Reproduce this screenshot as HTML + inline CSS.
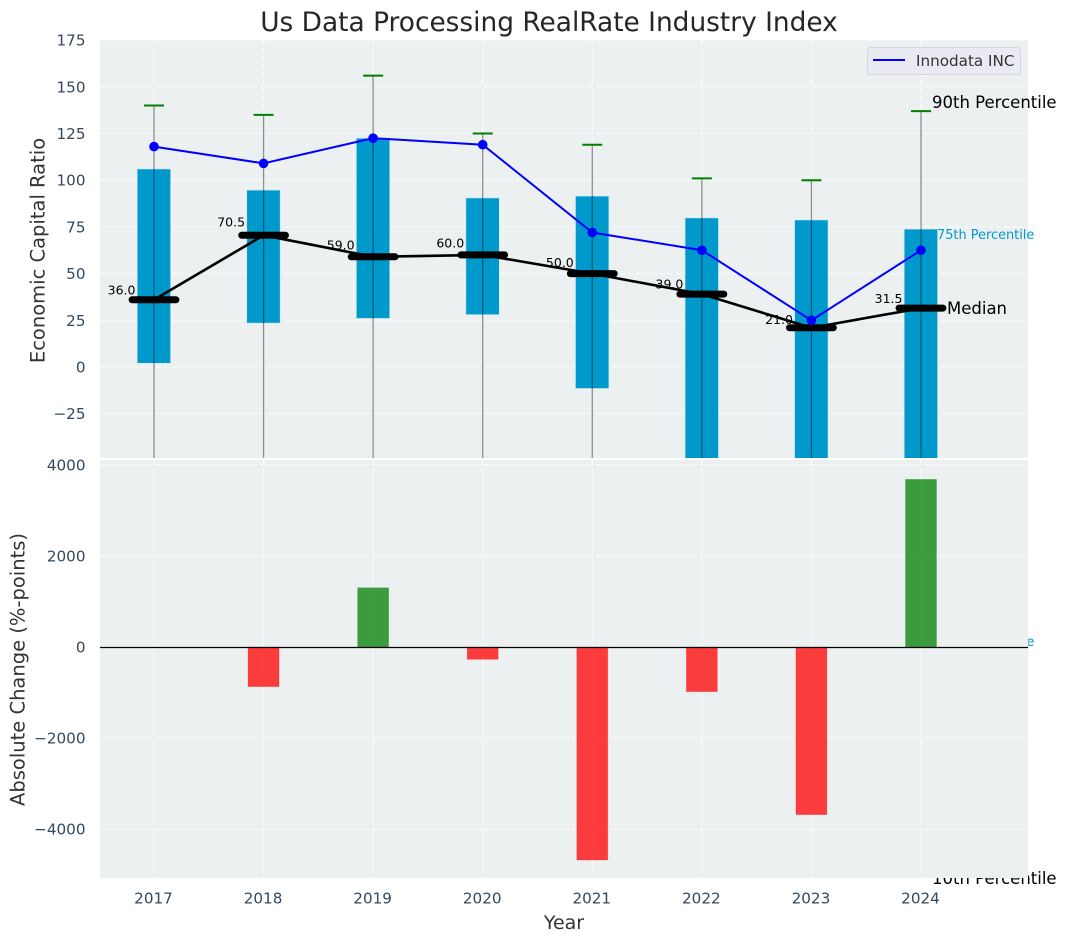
<!DOCTYPE html>
<html lang="en">
<head>
<meta charset="utf-8">
<title>Us Data Processing RealRate Industry Index</title>
<style>
html,body{margin:0;padding:0;background:#fff;}
svg{display:block;font-family:"DejaVu Sans","Liberation Sans",sans-serif;}
</style>
</head>
<body>
<svg id="chart" xmlns="http://www.w3.org/2000/svg" width="1067" height="942" viewBox="0 0 1067 942">
<defs>
<clipPath id="top-clip"><rect x="100" y="40" width="928" height="418"/></clipPath>
<clipPath id="bottom-clip"><rect x="100" y="460" width="928" height="418"/></clipPath>
</defs>
</svg>
<script>
const years = [2017, 2018, 2019, 2020, 2021, 2022, 2023, 2024];
const p90 = [140, 135, 156, 125, 119, 101, 100, 137];
const p75 = [106, 94.7, 122.5, 90.5, 91.5, 79.8, 78.7, 73.8];
const median = [36, 70.5, 59, 60, 50, 39, 21, 31.5];
const p25 = [2, 23.5, 26, 28, -11.5, -60, -60, -60];
const p10 = [-70, -70, -70, -70, -80, -100, -100, -100];
const company = [118, 109, 122.5, 119, 72, 62.5, 25, 62.5];
const changes = [0, -870, 1300, -270, -4676, -980, -3680, 3680];
const topTicks = [175, 150, 125, 100, 75, 50, 25, 0, -25];
const bottomTicks = [4000, 2000, 0, -2000, -4000];

const svg = document.getElementById('chart');
const NS = 'http://www.w3.org/2000/svg';
const xScale = v => 154 + (v - 2017) * 109.57;
const yTop = v => 367 - v * 1.868;
const yBottom = v => 647 - v * 0.04555;
const fmt = v => String(v).replace('-', '\u2212');

function mk(tag, attrs, parent) {
  const el = document.createElementNS(NS, tag);
  for (const k in attrs) el.setAttribute(k, attrs[k]);
  (parent || svg).appendChild(el);
  return el;
}
function txt(content, attrs, parent) {
  const el = mk('text', attrs, parent);
  el.textContent = content;
  return el;
}

/* title */
const title = txt('Us Data Processing RealRate Industry Index', {x: 549, y: 31, 'text-anchor': 'middle', 'font-size': 26.4, fill: '#262626'});



/* top panel */
const topBg = mk('rect', {x: 100, y: 40, width: 928, height: 418, fill: '#ecf0f1'});



const topGrid = mk('g', {stroke: '#fff', 'stroke-width': 1.1, 'stroke-dasharray': '5 3', 'stroke-opacity': 0.85});


topTicks.forEach(t => mk('line', {x1: 100, x2: 1028, y1: yTop(t), y2: yTop(t)}, topGrid));
years.forEach(y => mk('line', {x1: xScale(y), x2: xScale(y), y1: 40, y2: 458}, topGrid));

const topPlot = mk('g', {'clip-path': 'url(#top-clip)'});



years.forEach((y, i) => {
  const box = mk('rect', {x: xScale(y) - 16.8, width: 33.4, y: yTop(p75[i]), height: yTop(p25[i]) - yTop(p75[i]), fill: '#0099cc', stroke: '#cfe6ef', 'stroke-width': 0.6}, topPlot);
  
  
});
years.forEach((y, i) => {
  const whisker = mk('line', {x1: xScale(y), x2: xScale(y), y1: yTop(p90[i]), y2: yTop(p10[i]), stroke: '#000', 'stroke-opacity': 0.42, 'stroke-width': 1.3}, topPlot);
  
  
  const cap = mk('line', {x1: xScale(y) - 10, x2: xScale(y) + 10, y1: yTop(p90[i]), y2: yTop(p90[i]), stroke: '#008000', 'stroke-width': 2}, topPlot);
  
  
});

const medianLine = mk('polyline', {points: years.map((y, i) => xScale(y) + ',' + yTop(median[i])).join(' '), fill: 'none', stroke: '#000', 'stroke-width': 2.6}, topPlot);



years.forEach((y, i) => {
  const tick = mk('line', {x1: xScale(y) - 21.9, x2: xScale(y) + 21.9, y1: yTop(median[i]), y2: yTop(median[i]), stroke: '#000', 'stroke-width': 7, 'stroke-linecap': 'round'}, topPlot);
  
  
});

const companyLine = mk('polyline', {points: years.map((y, i) => xScale(y) + ',' + yTop(company[i])).join(' '), fill: 'none', stroke: '#0000ff', 'stroke-width': 2}, topPlot);


years.forEach((y, i) => {
  const pt = mk('circle', {cx: xScale(y), cy: yTop(company[i]), r: 4.8, fill: '#0000ff'}, topPlot);
  
  
});

years.forEach((y, i) => {
  const lab = txt(median[i].toFixed(1), {x: xScale(y) - 18.5, y: yTop(median[i] * 1.05) - 2, 'text-anchor': 'end', 'font-size': 12.5, fill: '#000'});
  
  
});

/* percentile annotations drawn beneath the bottom panel */
const ann90 = txt('90th Percentile', {x: 932, y: 108, 'font-size': 16.5, fill: '#000'});


const ann75 = txt('75th Percentile', {x: 937, y: 239, 'font-size': 12.9, fill: '#0099cc'});


const annMed = txt('Median', {x: 947, y: 314, 'font-size': 16.5, fill: '#000'});


const ann25 = txt('25th Percentile', {x: 937, y: 646, 'font-size': 12.9, fill: '#0099cc'});


const ann10 = txt('10th Percentile', {x: 932, y: 884, 'font-size': 16.5, fill: '#000'});



/* legend */
const legend = mk('g', {});


mk('rect', {x: 867.5, y: 47.5, width: 153, height: 27, rx: 3, fill: '#eaeaf2', stroke: '#d5d5d8', 'stroke-width': 1}, legend);
mk('line', {x1: 873, x2: 905, y1: 60, y2: 60, stroke: '#0000ff', 'stroke-width': 2}, legend);
const legendLabel = txt('Innodata INC', {x: 916, y: 66, 'font-size': 15.2, fill: '#333'}, legend);



/* bottom panel */
const bottomBg = mk('rect', {x: 100, y: 460, width: 928, height: 418, fill: '#ecf0f1'});



const bottomGrid = mk('g', {stroke: '#fff', 'stroke-width': 1.1, 'stroke-dasharray': '5 3', 'stroke-opacity': 0.85});


bottomTicks.forEach(t => mk('line', {x1: 100, x2: 1028, y1: yBottom(t), y2: yBottom(t)}, bottomGrid));
years.forEach(y => mk('line', {x1: xScale(y), x2: xScale(y), y1: 460, y2: 878}, bottomGrid));

const bottomPlot = mk('g', {'clip-path': 'url(#bottom-clip)'});


years.forEach((y, i) => {
  const v = changes[i];
  const color = v >= 0 ? '#008000' : '#ff0000';
  const bar = mk('rect', {x: xScale(y) - 15.5, width: 31, y: Math.min(yBottom(v), yBottom(0)), height: Math.abs(yBottom(v) - yBottom(0)), fill: color, 'fill-opacity': 0.75, stroke: color, 'stroke-opacity': 0.25, 'stroke-width': 0.8}, bottomPlot);
  
  
});
const zeroLine = mk('line', {x1: 100, x2: 1028, y1: yBottom(0) + 0.5, y2: yBottom(0) + 0.5, stroke: '#000', 'stroke-width': 1.3});



/* axis tick labels */
topTicks.forEach(t => {
  const lab = txt(fmt(t), {x: 85.5, y: yTop(t) + 5.5, 'text-anchor': 'end', 'font-size': 15.2, fill: '#34495e'});
  
  
});
bottomTicks.forEach(t => {
  const lab = txt(fmt(t), {x: 85.5, y: yBottom(t) + 5.5, 'text-anchor': 'end', 'font-size': 15.2, fill: '#34495e'});
  
  
});
years.forEach(y => {
  const lab = txt(String(y), {x: xScale(y) - 0.5, y: 903.5, 'text-anchor': 'middle', 'font-size': 15.2, fill: '#34495e'});
  
  
});

/* axis titles */
const topTitle = txt('Economic Capital Ratio', {transform: 'translate(44.5 250.5) rotate(-90)', 'text-anchor': 'middle', 'font-size': 19.5, fill: '#333'});


const bottomTitle = txt('Absolute Change (%-points)', {transform: 'translate(24.5 669.5) rotate(-90)', 'text-anchor': 'middle', 'font-size': 19.5, fill: '#333'});


const xTitle = txt('Year', {x: 564, y: 929, 'text-anchor': 'middle', 'font-size': 19, fill: '#333'});


</script>
</body>
</html>
